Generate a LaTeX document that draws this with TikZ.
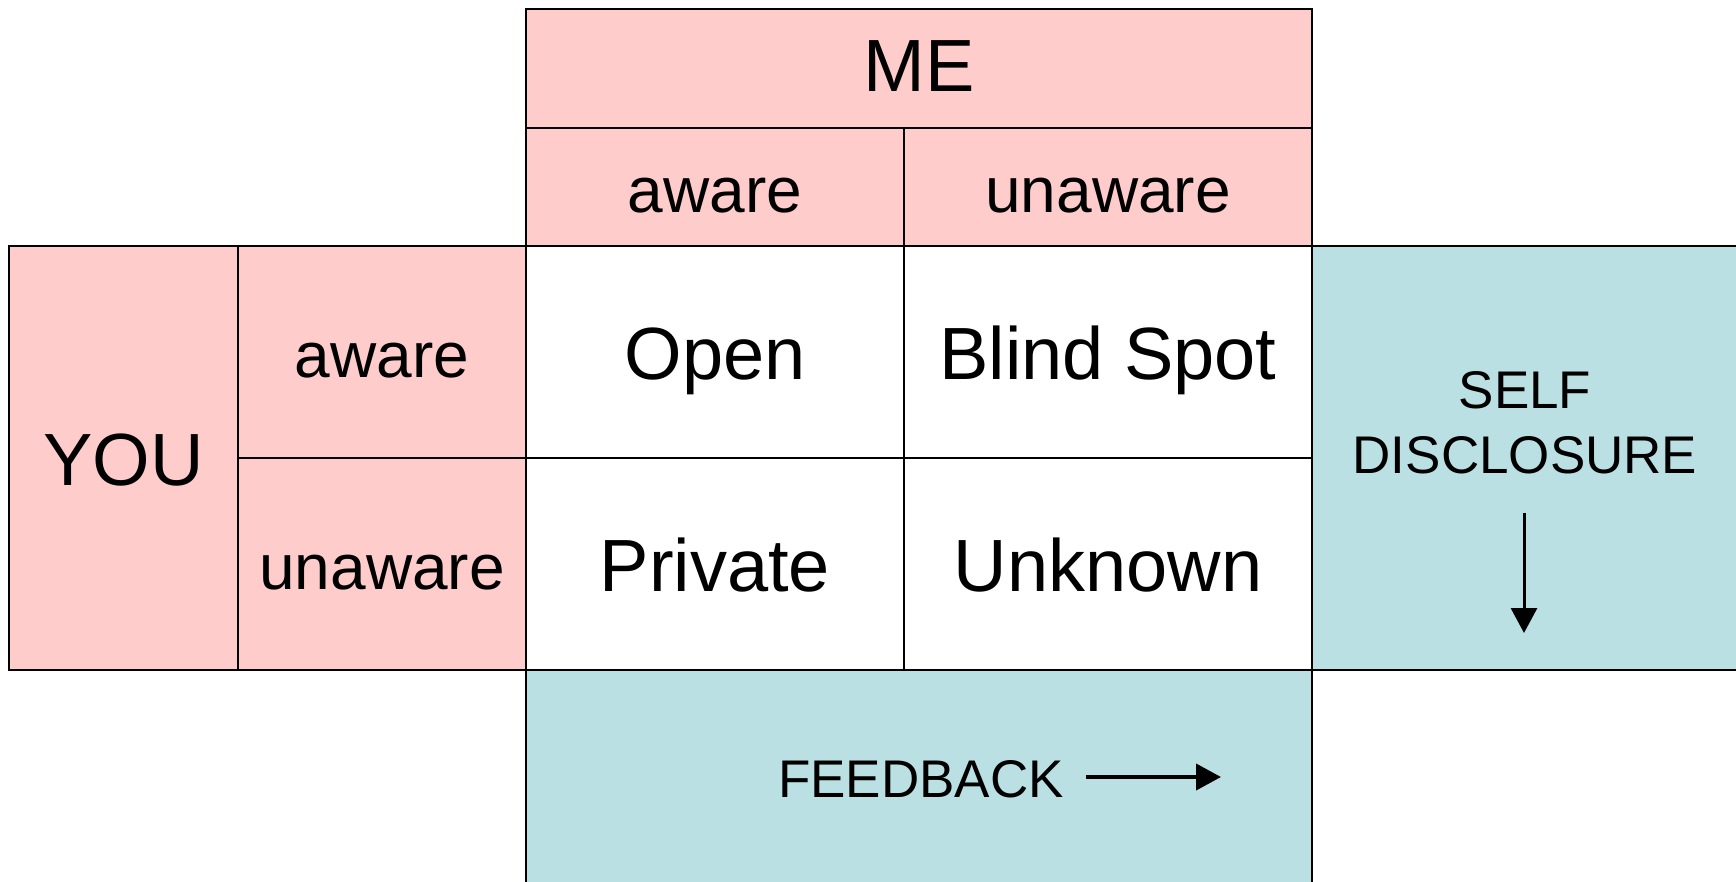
\documentclass[tikz,border=0pt]{standalone}
\usepackage{fontspec}
\setmainfont{Liberation Sans}
\usetikzlibrary{positioning,arrows.meta}
\definecolor{mepink}{RGB}{255,204,204}
\definecolor{panelteal}{RGB}{187,224,227}
\tikzset{
	box/.style={draw=black, line width=2pt, inner sep=0pt, outer sep=0pt, anchor=north west, text depth=0pt},
	pinkbox/.style={box, fill=mepink},
	tealbox/.style={box, fill=panelteal},
	whitebox/.style={box, fill=white},
	bigtext/.style={font=\fontsize{74}{88}\selectfont, text height=54pt},
	midtext/.style={font=\fontsize{64}{76}\selectfont, text height=51pt},
	smalltext/.style={font=\fontsize{53}{64}\selectfont, inner sep=0pt, anchor=base},
	arrowline/.style={line width=#1, -{Triangle[length=25pt,width=26pt]}},
}

\begin{document}
\begin{tikzpicture}[x=1pt, y=-1pt]
			%%%%% START %%%%%
			\useasboundingbox (0, 0) rectangle (1736, 881);
			\clip (0, 0) rectangle (1736, 881);
			
			%%%%% ME %%%%%
			\node[pinkbox, bigtext, text height=46pt, minimum width=786pt, minimum height=119pt] (me) at (526, 9) {ME};
			\node[pinkbox, midtext, minimum width=378pt, minimum height=118pt] (meaware) at (526, 128) {aware};
			\node[pinkbox, midtext, minimum width=408pt, minimum height=118pt] (meunaware) at (904, 128) {unaware};
			
			%%%%% YOU %%%%%
			\node[pinkbox, bigtext, minimum width=229pt, minimum height=424pt] (you) at (9, 246) {YOU};
			\node[pinkbox, midtext, minimum width=288pt, minimum height=212pt] (youaware) at (238, 246) {aware};
			\node[pinkbox, midtext, minimum width=288pt, minimum height=212pt] (youunaware) at (238, 458) {unaware};
			
			%%%%% WINDOW %%%%%
			\node[whitebox, bigtext, minimum width=378pt, minimum height=212pt] (open) at (526, 246) {Open};
			\node[whitebox, bigtext, minimum width=408pt, minimum height=212pt] (blind) at (904, 246) {Blind Spot};
			\node[whitebox, bigtext, minimum width=378pt, minimum height=212pt] (private) at (526, 458) {Private};
			\node[whitebox, bigtext, minimum width=408pt, minimum height=212pt] (unknown) at (904, 458) {Unknown};
			
			%%%%% PANELS %%%%%
			\node[tealbox, minimum width=440pt, minimum height=424pt] (selfpanel) at (1312, 246) {};
			\node[tealbox, minimum width=786pt, minimum height=240pt] (feedpanel) at (526, 670) {};
			
			\node[smalltext] (selfa) at (1525, 408) {SELF};
			\node[smalltext] (selfb) at ([yshift=-65pt]selfa.base) {DISCLOSURE};
			\coordinate (sdtop) at (1524, 513);
			\coordinate (sdtip) at (1524, 633);
			\draw[arrowline=3pt] (sdtop) -- (sdtip);
			
			\node[smalltext] (feedback) at (921, 797) {FEEDBACK};
			\coordinate (fbtail) at (1086, 777);
			\coordinate (fbtip) at (1221, 777);
			\draw[arrowline=4pt] (fbtail) -- (fbtip);
			
			%%%%% END %%%%%
\end{tikzpicture}
\end{document}
